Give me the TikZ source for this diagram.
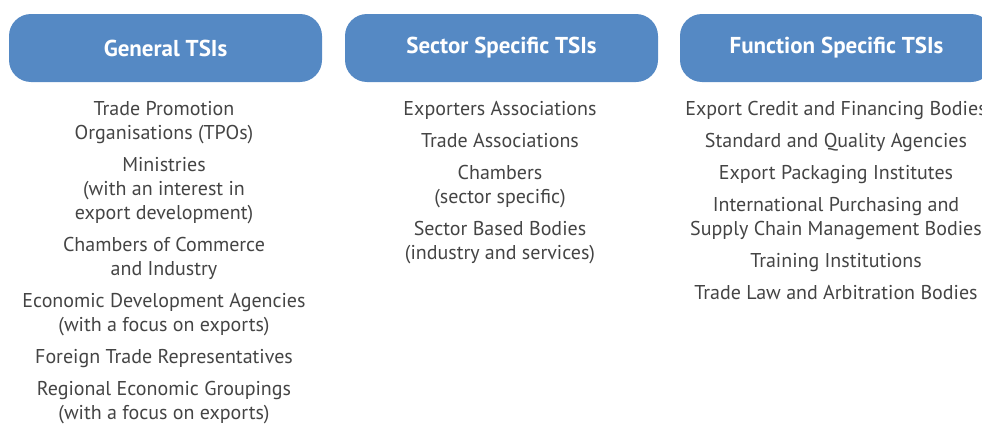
\documentclass[tikz,border=0pt]{standalone}
\usepackage{fontspec}
\setmainfont{PT Sans}
\usetikzlibrary{positioning}
\definecolor{tsiblue}{HTML}{5589C4}
\definecolor{tsitext}{HTML}{444444}

\tikzset{
  head/.style={fill=tsiblue, rounded corners=22pt, minimum width=313pt,
    minimum height=68pt, inner sep=0pt, text=white,
    font=\fontsize{23}{27}\selectfont\bfseries},
  list/.style={anchor=north, align=center, inner sep=0pt, text=tsitext,
    font=\fontsize{20}{24}\selectfont}
}

\begin{document}
\begin{tikzpicture}[x=1pt, y=1pt]
  \useasboundingbox (0,0) rectangle (982,-423);
  \begin{scope}
  \clip (0,0) rectangle (982,-423);
  % column heads
  \node[head] (general) at (165.5,-48) {General TSIs};
  \node[head] (sector) at (501.5,-48) {Sector Specific TSIs};
  \node[head] (function) at (836.5,-48) {Function Specific TSIs};
  % lists under the heads
  \node[list] (generallist) at (164,-101) {Trade Promotion\\
    Organisations (TPOs)\\[8pt]
    Ministries\\ (with an interest in\\ export development)\\[8pt]
    Chambers of Commerce\\ and Industry\\[8pt]
    Economic Development Agencies\\ (with a focus on exports)\\[8pt]
    Foreign Trade Representatives\\[8pt]
    Regional Economic Groupings\\ (with a focus on exports)};
  \node[list] (sectorlist) at (500,-101) {Exporters Associations\\[8pt]
    Trade Associations\\[8pt]
    Chambers\\ (sector specific)\\[8pt]
    Sector Based Bodies\\ (industry and services)};
  \node[list] (functionlist) at (836,-101) {Export Credit and Financing Bodies\\[8pt]
    Standard and Quality Agencies\\[8pt]
    Export Packaging Institutes\\[8pt]
    International Purchasing and\\ Supply Chain Management Bodies\\[8pt]
    Training Institutions\\[8pt]
    Trade Law and Arbitration Bodies};
  \end{scope}
\end{tikzpicture}
\end{document}
